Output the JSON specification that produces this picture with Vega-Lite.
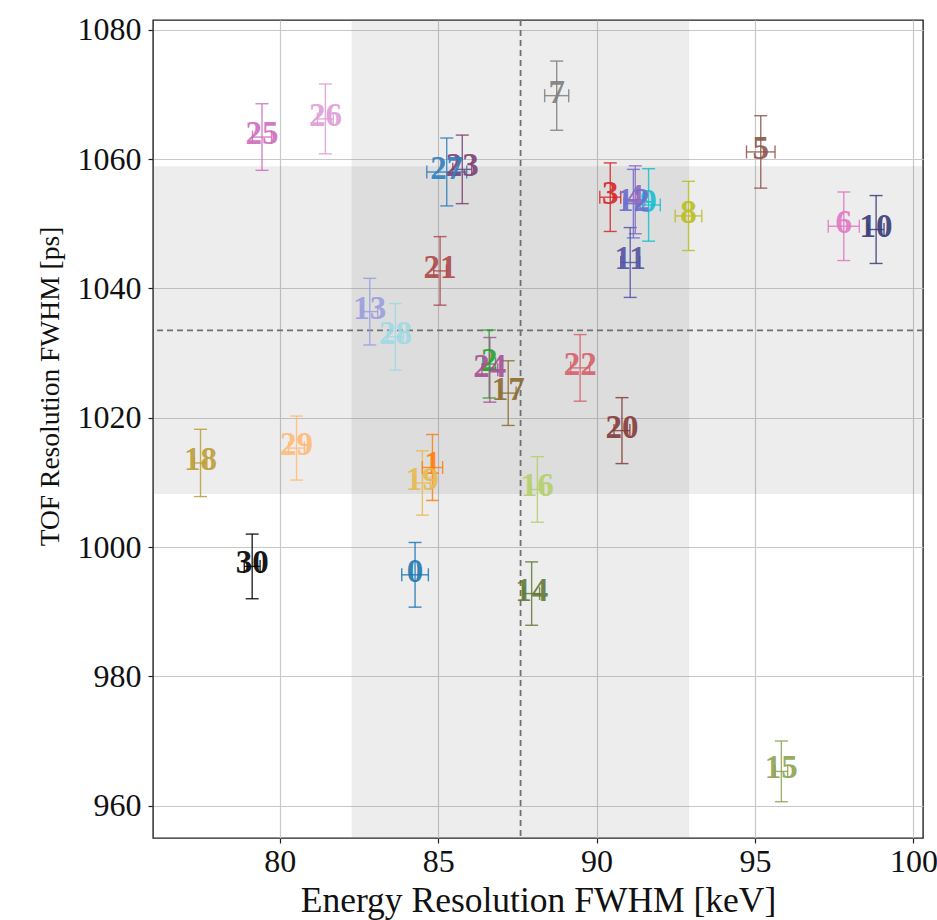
{
  "$schema": "https://vega.github.io/schema/vega-lite/v6.json",
  "width": 770,
  "height": 818,
  "autosize": "none",
  "padding": {"left": 153, "top": 20, "right": 14, "bottom": 82},
  "background": "white",
  "config": {
    "view": {"stroke": "#222222", "strokeWidth": 1.4},
    "axis": {
      "labelFont": "Liberation Serif",
      "labelFontSize": 32,
      "labelColor": "#111111",
      "titleFont": "Liberation Serif",
      "titleFontWeight": "normal",
      "titleColor": "#111111",
      "domain": false,
      "tickColor": "#222222",
      "tickSize": 5,
      "tickWidth": 1.2,
      "gridColor": "#c8c8c8",
      "gridWidth": 1.2
    }
  },
  "datasets": {
    "points": [
      {"label": "0", "energy": 84.27, "tof": 995.7, "energy_err": 0.42, "tof_err": 5.0, "color": "#1f77b4"},
      {"label": "1", "energy": 84.82, "tof": 1012.3, "energy_err": 0.32, "tof_err": 5.1, "color": "#ff7f0e"},
      {"label": "2", "energy": 86.61, "tof": 1028.3, "energy_err": 0.2, "tof_err": 5.25, "color": "#2ca02c"},
      {"label": "3", "energy": 90.43, "tof": 1054.1, "energy_err": 0.33, "tof_err": 5.3, "color": "#d62728"},
      {"label": "4", "energy": 91.22, "tof": 1053.7, "energy_err": 0.3, "tof_err": 5.25, "color": "#9467bd"},
      {"label": "5", "energy": 95.18, "tof": 1061.1, "energy_err": 0.45, "tof_err": 5.6, "color": "#8c564b"},
      {"label": "6", "energy": 97.8, "tof": 1049.6, "energy_err": 0.49, "tof_err": 5.3, "color": "#e377c2"},
      {"label": "7", "energy": 88.74, "tof": 1069.8, "energy_err": 0.38, "tof_err": 5.35, "color": "#7f7f7f"},
      {"label": "8", "energy": 92.9, "tof": 1051.2, "energy_err": 0.42, "tof_err": 5.35, "color": "#bcbd22"},
      {"label": "9", "energy": 91.64, "tof": 1052.9, "energy_err": 0.37, "tof_err": 5.6, "color": "#17becf"},
      {"label": "10", "energy": 98.82, "tof": 1049.1, "energy_err": 0.25, "tof_err": 5.25, "color": "#393b79"},
      {"label": "11", "energy": 91.06, "tof": 1044.0, "energy_err": 0.3, "tof_err": 5.4, "color": "#5254a3"},
      {"label": "12", "energy": 91.16, "tof": 1053.1, "energy_err": 0.3, "tof_err": 5.3, "color": "#6b6ecf"},
      {"label": "13", "energy": 82.84, "tof": 1036.4, "energy_err": 0.25, "tof_err": 5.15, "color": "#9c9ede"},
      {"label": "14", "energy": 87.95, "tof": 992.8, "energy_err": 0.25, "tof_err": 4.9, "color": "#637939"},
      {"label": "15", "energy": 95.83, "tof": 965.3, "energy_err": 0.2, "tof_err": 4.7, "color": "#8ca252"},
      {"label": "16", "energy": 88.13, "tof": 1008.9, "energy_err": 0.2, "tof_err": 5.07, "color": "#b5cf6b"},
      {"label": "17", "energy": 87.21, "tof": 1023.8, "energy_err": 0.25, "tof_err": 5.0, "color": "#8c6d31"},
      {"label": "18", "energy": 77.5, "tof": 1013.0, "energy_err": 0.2, "tof_err": 5.2, "color": "#bd9e39"},
      {"label": "19", "energy": 84.5, "tof": 1009.9, "energy_err": 0.25, "tof_err": 4.97, "color": "#e7ba52"},
      {"label": "20", "energy": 90.8, "tof": 1018.0, "energy_err": 0.25, "tof_err": 5.1, "color": "#843c39"},
      {"label": "21", "energy": 85.06, "tof": 1042.7, "energy_err": 0.2, "tof_err": 5.3, "color": "#ad494a"},
      {"label": "22", "energy": 89.48, "tof": 1027.7, "energy_err": 0.3, "tof_err": 5.15, "color": "#d6616b"},
      {"label": "23", "energy": 85.76, "tof": 1058.4, "energy_err": 0.3, "tof_err": 5.3, "color": "#7b4173"},
      {"label": "24", "energy": 86.63, "tof": 1027.4, "energy_err": 0.25, "tof_err": 5.0, "color": "#a55194"},
      {"label": "25", "energy": 79.44, "tof": 1063.4, "energy_err": 0.3, "tof_err": 5.15, "color": "#ce6dbd"},
      {"label": "26", "energy": 81.44, "tof": 1066.2, "energy_err": 0.25, "tof_err": 5.4, "color": "#de9ed6"},
      {"label": "27", "energy": 85.27, "tof": 1058.0, "energy_err": 0.63, "tof_err": 5.25, "color": "#2f7fc0"},
      {"label": "28", "energy": 83.65, "tof": 1032.5, "energy_err": 0.25, "tof_err": 5.15, "color": "#9edae5"},
      {"label": "29", "energy": 80.53, "tof": 1015.3, "energy_err": 0.25, "tof_err": 4.95, "color": "#ffbb78"},
      {"label": "30", "energy": 79.13, "tof": 997.0, "energy_err": 0.25, "tof_err": 5.0, "color": "#000000"}
    ],
    "energy_band": [{"lo": 82.27, "hi": 92.92, "mid": 87.6}],
    "tof_band": [{"lo": 1008.2, "hi": 1058.9, "mid": 1033.5}]
  },
  "layer": [
    {
      "data": {"name": "energy_band"},
      "mark": {"type": "rect", "color": "#808080", "opacity": 0.14},
      "encoding": {
        "x": {
          "field": "lo", "type": "quantitative",
          "title": "Energy Resolution FWHM [keV]",
          "scale": {"domain": [76, 100.3], "nice": false, "zero": false},
          "axis": {
            "values": [80, 85, 90, 95, 100],
            "format": "d",
            "titleFontSize": 35.5,
            "titleY": 73,
            "titleBaseline": "alphabetic",
            "labelPadding": 3
          }
        },
        "x2": {"field": "hi"}
      }
    },
    {
      "data": {"name": "tof_band"},
      "mark": {"type": "rect", "color": "#808080", "opacity": 0.14},
      "encoding": {
        "y": {
          "field": "lo", "type": "quantitative",
          "title": "TOF Resolution FWHM [ps]",
          "scale": {"domain": [955, 1081.5], "nice": false, "zero": false},
          "axis": {
            "values": [960, 980, 1000, 1020, 1040, 1060, 1080],
            "format": "d",
            "titleFontSize": 27.5,
            "titleAngle": 270,
            "titleAlign": "center",
            "titleBaseline": "alphabetic",
            "titleX": -95,
            "titleY": 366,
            "labelPadding": 7
          }
        },
        "y2": {"field": "hi"}
      }
    },
    {
      "data": {"name": "energy_band"},
      "mark": {"type": "rule", "color": "#707070", "strokeWidth": 1.8, "strokeDash": [6, 4]},
      "encoding": {"x": {"field": "mid", "type": "quantitative", "title": "Energy Resolution FWHM [keV]"}}
    },
    {
      "data": {"name": "tof_band"},
      "mark": {"type": "rule", "color": "#707070", "strokeWidth": 1.8, "strokeDash": [6, 4]},
      "encoding": {"y": {"field": "mid", "type": "quantitative", "title": "TOF Resolution FWHM [ps]"}}
    },
    {
      "data": {"name": "points"},
      "mark": {"type": "errorbar", "ticks": true, "size": 13, "thickness": 1.4, "opacity": 0.85},
      "encoding": {
        "x": {"field": "energy", "type": "quantitative", "title": "Energy Resolution FWHM [keV]"},
        "y": {"field": "tof", "type": "quantitative", "title": "TOF Resolution FWHM [ps]"},
        "yError": {"field": "tof_err"},
        "color": {"field": "color", "type": "nominal", "scale": null}
      }
    },
    {
      "data": {"name": "points"},
      "mark": {"type": "errorbar", "ticks": true, "size": 13, "thickness": 1.4, "opacity": 0.85},
      "encoding": {
        "x": {"field": "energy", "type": "quantitative", "title": "Energy Resolution FWHM [keV]"},
        "xError": {"field": "energy_err"},
        "y": {"field": "tof", "type": "quantitative", "title": "TOF Resolution FWHM [ps]"},
        "color": {"field": "color", "type": "nominal", "scale": null}
      }
    },
    {
      "data": {"name": "points"},
      "mark": {
        "type": "text",
        "font": "Liberation Serif",
        "fontWeight": "bold",
        "fontSize": 33,
        "align": "center",
        "baseline": "middle",
        "dy": -3,
        "opacity": 0.9
      },
      "encoding": {
        "x": {"field": "energy", "type": "quantitative", "title": "Energy Resolution FWHM [keV]"},
        "y": {"field": "tof", "type": "quantitative", "title": "TOF Resolution FWHM [ps]"},
        "text": {"field": "label", "type": "nominal"},
        "color": {"field": "color", "type": "nominal", "scale": null}
      }
    }
  ]
}
